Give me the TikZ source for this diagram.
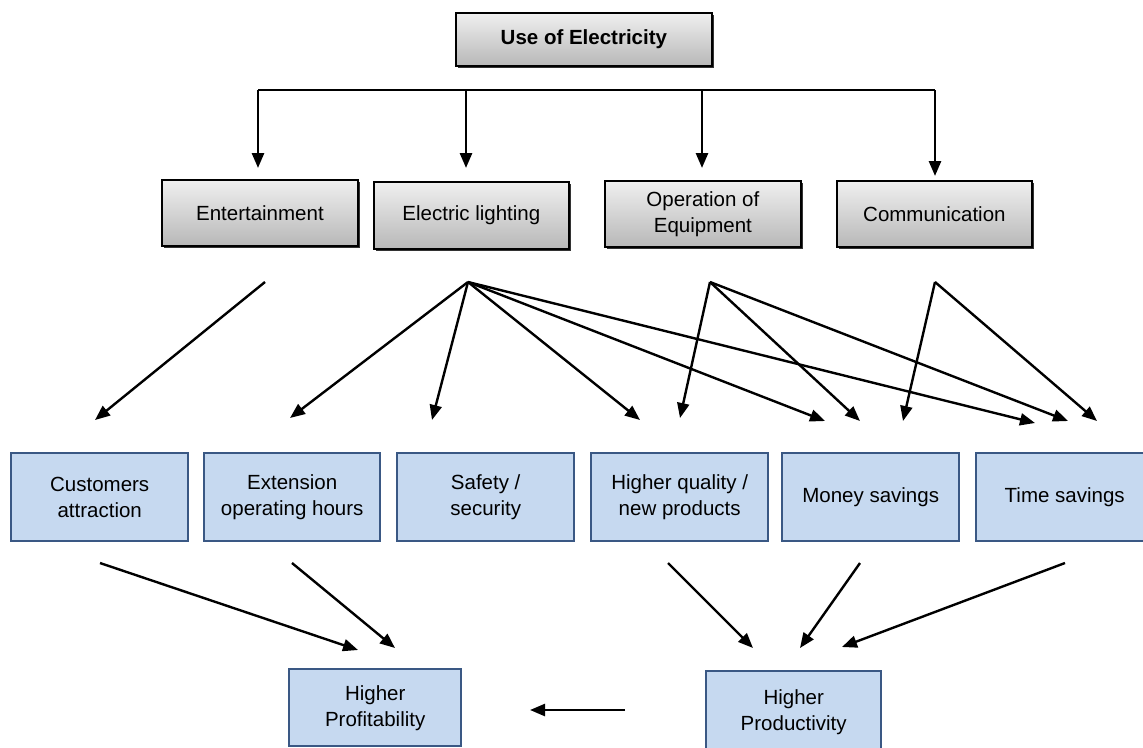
\documentclass[tikz,border=0pt]{standalone}
\usepackage{fontspec}
\setmainfont{Liberation Sans}
\usetikzlibrary{arrows.meta,shadows}
\definecolor{bfill}{RGB}{198,217,240}
\definecolor{bdraw}{RGB}{58,88,132}
\tikzset{
  gbox/.style={draw=black, line width=1.8pt, top color=black!6, bottom color=black!28,
    drop shadow={shadow xshift=2pt, shadow yshift=-2pt, fill=black!80, opacity=1},
    anchor=north west, align=center, inner sep=0pt},
  bbox/.style={draw=bdraw, line width=2.4pt, fill=bfill, anchor=north west, align=center, inner sep=0pt},
  txt/.style={font=\fontsize{20.5}{26}\selectfont},
  tip/.style={-{Triangle[length=15pt,width=12pt]}},
  arr/.style={draw=black, line width=2.4pt, tip},
  tree/.style={draw=black, line width=2.7pt},
}
\begin{document}
\begin{tikzpicture}[x=1pt,y=-1pt]
\useasboundingbox (0,0) rectangle (1143,747);
% top
\node[gbox, minimum width=256, minimum height=53, font=\fontsize{20.5}{26}\selectfont\bfseries] (use) at (455,12) {Use of Electricity};
% middle row
\node[gbox, txt, minimum width=196, minimum height=66] (ent) at (161,179) {Entertainment};
\node[gbox, txt, minimum width=195, minimum height=67] (light) at (373,181) {Electric lighting};
\node[gbox, txt, minimum width=196, minimum height=66] (oper) at (604,180) {Operation of\\Equipment};
\node[gbox, txt, minimum width=195, minimum height=66] (comm) at (836,180) {Communication};
% tree
\coordinate (t1) at (258,90);
\coordinate (t2) at (466,90);
\coordinate (t3) at (702,90);
\coordinate (t4) at (935,90);
\coordinate (e1) at (258,168);
\coordinate (e2) at (466,168);
\coordinate (e3) at (702,168);
\coordinate (e4) at (935,176);
\draw[tree] (t1) -- (t4);
\draw[tree, tip] (t1) -- (e1);
\draw[tree, tip] (t2) -- (e2);
\draw[tree, tip] (t3) -- (e3);
\draw[tree, tip] (t4) -- (e4);
% bottom row
\node[bbox, txt, minimum width=177, minimum height=88] (cust) at (10,452) {Customers\\attraction};
\node[bbox, txt, minimum width=176, minimum height=88] (ext) at (203,452) {Extension\\operating hours};
\node[bbox, txt, minimum width=177, minimum height=88] (safe) at (396,452) {Safety /\\security};
\node[bbox, txt, minimum width=177, minimum height=88] (hq) at (590,452) {Higher quality /\\new products};
\node[bbox, txt, minimum width=177, minimum height=88] (money) at (781,452) {Money savings};
\node[bbox, txt, minimum width=177, minimum height=88] (time) at (975,452) {Time savings};
% last row
\node[bbox, txt, minimum width=172, minimum height=77] (prof) at (288,668) {Higher\\Profitability};
\node[bbox, txt, minimum width=175, minimum height=82] (prod) at (705,670) {Higher\\Productivity};
% sources and targets
\coordinate (sEnt) at (265,282);
\coordinate (sLight) at (468,282);
\coordinate (sOper) at (710,282);
\coordinate (sComm) at (935,282);
\coordinate (aCust) at (95,420);
\coordinate (aExt) at (290,418);
\coordinate (aSafe) at (432,420);
\coordinate (aHq1) at (640,420);
\coordinate (aHq2) at (680,418);
\coordinate (aMon1) at (825,421);
\coordinate (aMon2) at (860,421);
\coordinate (aMon3) at (903,421);
\coordinate (aTim1) at (1035,423);
\coordinate (aTim2) at (1068,421);
\coordinate (aTim3) at (1097,421);
\draw[arr] (sEnt) -- (aCust);
\draw[arr] (sLight) -- (aExt);
\draw[arr] (sLight) -- (aSafe);
\draw[arr] (sLight) -- (aHq1);
\draw[arr] (sLight) -- (aMon1);
\draw[arr] (sLight) -- (aTim1);
\draw[arr] (sOper) -- (aHq2);
\draw[arr] (sOper) -- (aMon2);
\draw[arr] (sOper) -- (aTim2);
\draw[arr] (sComm) -- (aMon3);
\draw[arr] (sComm) -- (aTim3);
% lower arrows
\coordinate (bCust) at (100,563);
\coordinate (bExt) at (292,563);
\coordinate (bHq) at (668,563);
\coordinate (bMon) at (860,563);
\coordinate (bTim) at (1065,563);
\coordinate (pf1) at (358,650);
\coordinate (pf2) at (395,648);
\coordinate (pd1) at (753,648);
\coordinate (pd2) at (800,648);
\coordinate (pd3) at (842,647);
\coordinate (pdl) at (625,710);
\coordinate (pfr) at (530,710);
\draw[arr] (bCust) -- (pf1);
\draw[arr] (bExt) -- (pf2);
\draw[arr] (bHq) -- (pd1);
\draw[arr] (bMon) -- (pd2);
\draw[arr] (bTim) -- (pd3);
\draw[arr] (pdl) -- (pfr);
\end{tikzpicture}
\end{document}
